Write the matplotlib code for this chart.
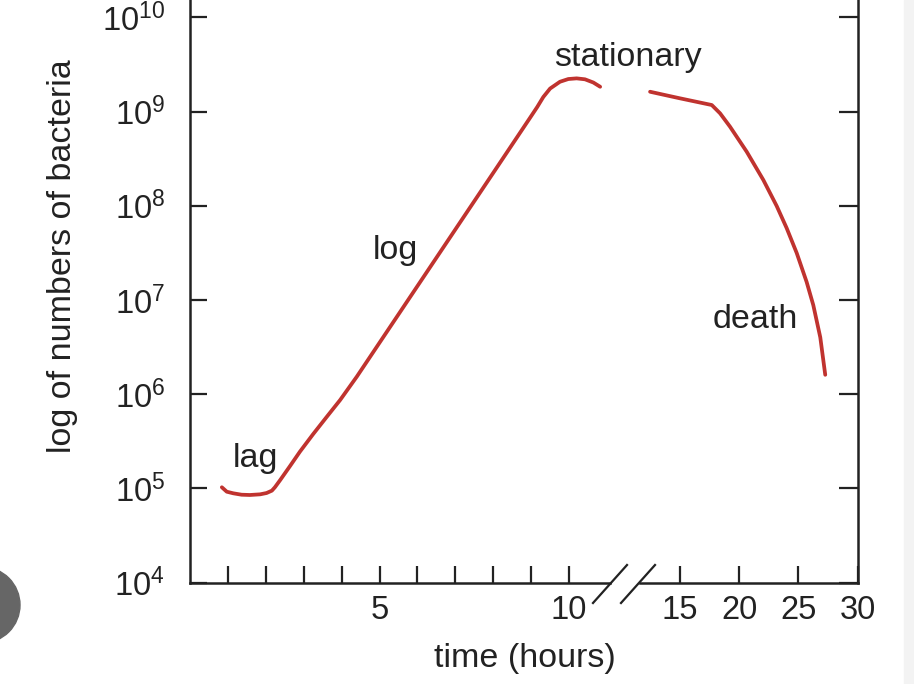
import numpy as np
import matplotlib
matplotlib.use('Agg')
import matplotlib.pyplot as plt
from matplotlib.ticker import FixedLocator, NullLocator, FixedFormatter
from matplotlib.patches import Ellipse, Rectangle

plt.rcParams['font.family'] = ['Liberation Sans', 'DejaVu Sans']
plt.rcParams['mathtext.fontset'] = 'custom'
plt.rcParams['mathtext.rm'] = 'Liberation Sans'
plt.rcParams['mathtext.default'] = 'regular'

# lag + log + start of stationary (before the axis break)
t_left = [0.84, 0.97, 1.14, 1.36, 1.58, 1.85, 2.02, 2.16, 2.24, 2.38, 2.64, 2.90,
          3.25, 3.61, 3.96, 4.40, 6.07, 8.05, 8.97, 9.16, 9.32, 9.50, 9.76, 9.98,
          10.20, 10.42, 10.64, 10.82]
log_left = [5.011, 4.964, 4.947, 4.932, 4.929, 4.936, 4.950, 4.975, 5.011, 5.088,
            5.237, 5.389, 5.576, 5.760, 5.937, 6.185, 7.189, 8.379, 8.933, 9.048,
            9.154, 9.244, 9.316, 9.345, 9.352, 9.342, 9.308, 9.263]

# rest of stationary + death (after the break)
t_right = [12.47, 13.73, 15.0, 17.68, 18.38, 19.22, 20.63, 22.03, 23.16, 24.00,
           24.85, 25.69, 26.25, 26.84, 27.26]
log_right = [9.210, 9.175, 9.140, 9.069, 8.981, 8.839, 8.573, 8.274, 7.997, 7.763,
             7.498, 7.190, 6.945, 6.603, 6.205]

y_ticks = [4, 5, 6, 7, 8, 9, 10]
x_ticks_left = list(range(1, 11))
x_labels_left = ['', '', '', '', '5', '', '', '', '', '10']
x_ticks_right = [15, 20, 25, 30]

red = '#c0332f'
ink = '#222222'
fs = 24.5

fig = plt.figure(figsize=(9.14, 6.84), dpi=100)
fig.patch.set_facecolor('white')

bottom = 1 - 582.5 / 684
ax1 = fig.add_axes([190 / 914, bottom, 420 / 914, 1 - bottom])
ax2 = fig.add_axes([640 / 914, bottom, 217.7 / 914, 1 - bottom])

ylo, yhi = 1e4, 10 ** 10.184
for ax in (ax1, ax2):
    ax.set_facecolor('none')
    ax.set_yscale('log')
    ax.set_ylim(ylo, yhi)
    ax.yaxis.set_minor_locator(NullLocator())
    ax.spines['top'].set_visible(False)
    for s in ax.spines.values():
        s.set_linewidth(1.8)
        s.set_color(ink)
    ax.tick_params(direction='in', length=12.5, width=1.6, color=ink,
                   labelsize=23.5, labelcolor=ink)

ax1.set_xlim(0, 11.08)
ax2.set_xlim(11.62, 30)
ax1.spines['right'].set_visible(False)
ax2.spines['left'].set_visible(False)

ax1.plot(t_left, 10 ** np.array(log_left), color=red, lw=2.7,
         solid_capstyle='round', solid_joinstyle='round')
ax2.plot(t_right, 10 ** np.array(log_right), color=red, lw=2.7,
         solid_capstyle='round', solid_joinstyle='round')

# axes ticks
ax1.yaxis.set_major_locator(FixedLocator([10.0 ** k for k in y_ticks]))
ax1.yaxis.set_major_formatter(FixedFormatter(['$10^{%d}$' % k for k in y_ticks]))
ax1.tick_params(axis='y', pad=18)
ax1.xaxis.set_major_locator(FixedLocator(x_ticks_left))
ax1.xaxis.set_major_formatter(FixedFormatter(x_labels_left))
ax1.tick_params(axis='x', pad=9)

ax2.yaxis.tick_right()
ax2.yaxis.set_major_locator(FixedLocator([10.0 ** k for k in y_ticks]))
ax2.yaxis.set_major_formatter(FixedFormatter([''] * len(y_ticks)))
ax2.tick_params(axis='y', length=13.5)
ax2.xaxis.set_major_locator(FixedLocator(x_ticks_right))
ax2.xaxis.set_major_formatter(FixedFormatter([str(v) for v in x_ticks_right]))
ax2.tick_params(axis='x', pad=9)

ax1.set_ylabel('log of numbers of bacteria', fontsize=fs, color=ink)
ax1.yaxis.set_label_coords(-0.267, 0.56)
fig.text(525 / 914, 1 - 659 / 684, 'time (hours)', fontsize=fs, color=ink,
         ha='center', va='center')

# phase names
ax1.text(1.72, 10 ** 5.32, 'lag', fontsize=fs, color=ink, ha='center', va='center')
ax1.text(5.41, 10 ** 7.52, 'log', fontsize=fs, color=ink, ha='center', va='center')
ax1.text(11.56, 10 ** 9.57, 'stationary', fontsize=fs, color=ink, ha='center', va='center')
ax2.text(21.33, 10 ** 6.79, 'death', fontsize=fs, color=ink, ha='center', va='center')

# break marks on the time axis
for x0 in (593, 621):
    fig.add_artist(plt.Line2D([x0 / 914, (x0 + 34) / 914],
                              [1 - 603 / 684, 1 - 565 / 684],
                              transform=fig.transFigure, color=ink, lw=1.6))

# screenshot leftovers
fig.add_artist(Ellipse((-18 / 914, 1 - 605 / 684), 76 / 914, 76 / 684,
                       transform=fig.transFigure, color='#666666', zorder=0))
fig.add_artist(Rectangle((904 / 914, 0), 10 / 914, 1, transform=fig.transFigure,
                         color='#f3f3f3', zorder=0))

fig.savefig('out.png', dpi=100)
